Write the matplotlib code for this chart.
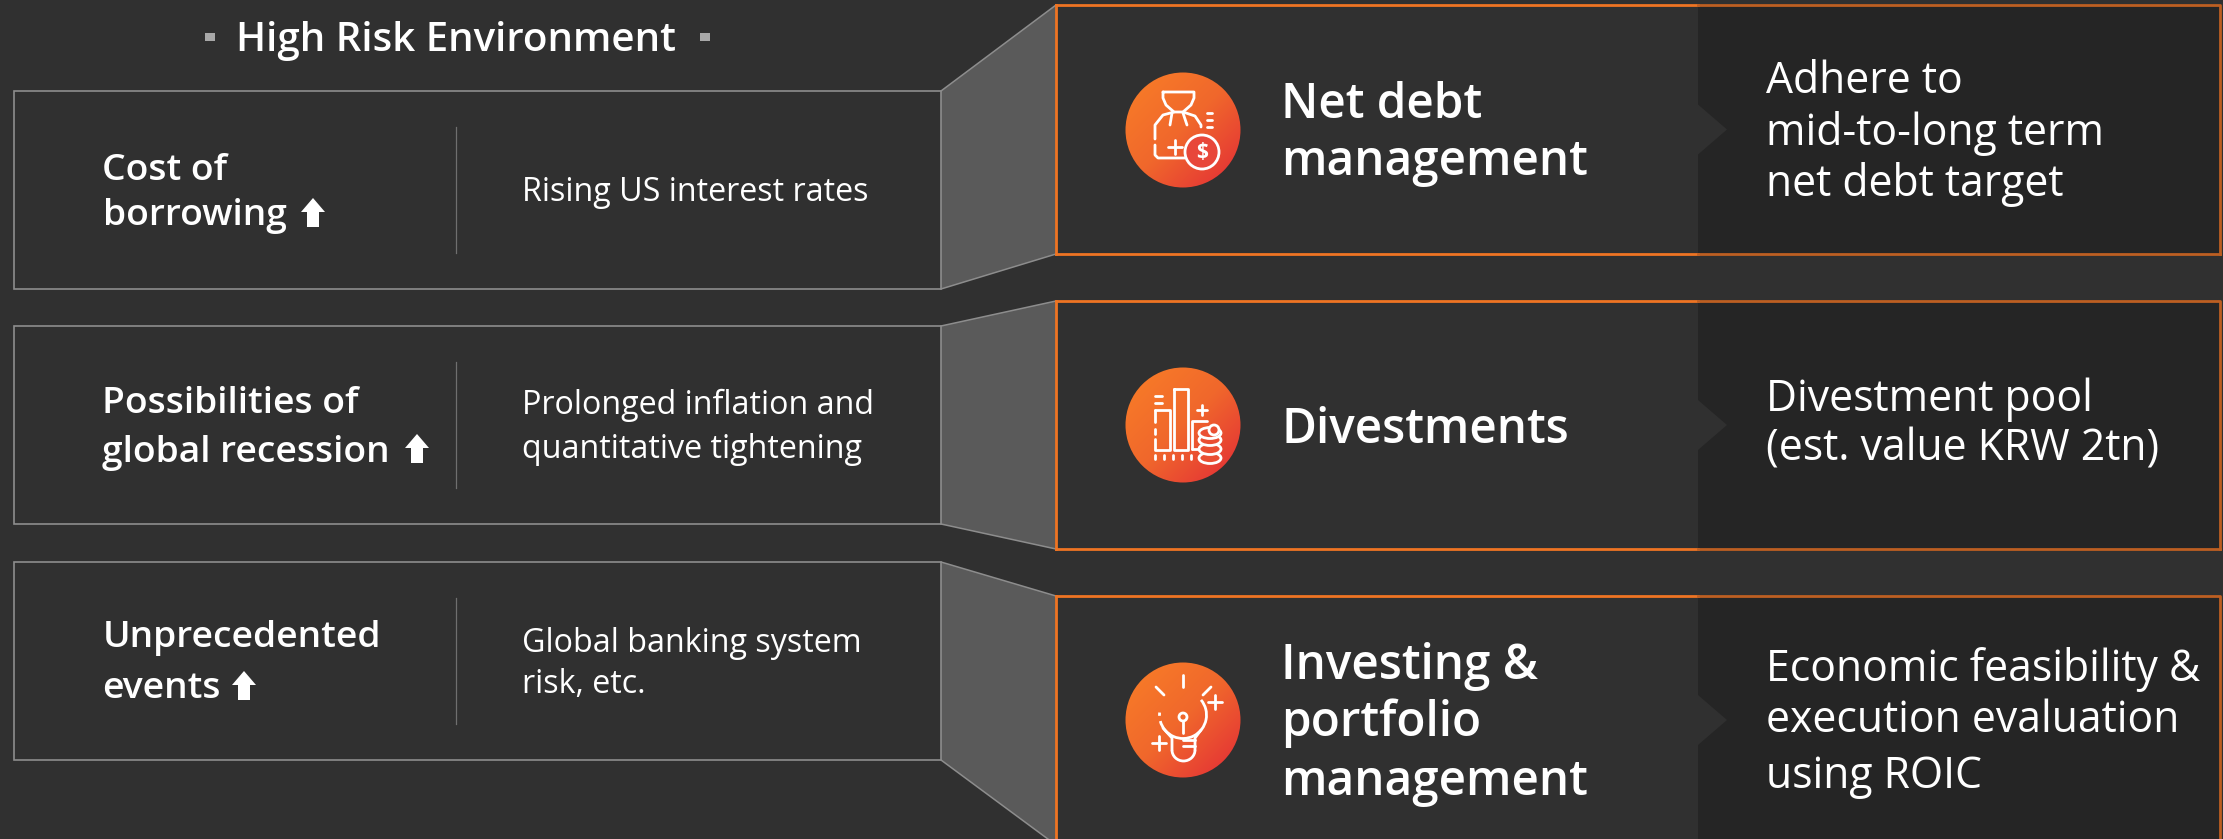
import numpy as np
import matplotlib
matplotlib.use("Agg")
import matplotlib.pyplot as plt
from matplotlib.colors import LinearSegmentedColormap
from matplotlib.patches import Arc, Circle, Ellipse, Polygon, Rectangle

W, H = 2223, 839

BG = "#303030"
PANEL = "#252525"
ORANGE = "#ee7423"
ORANGE_DARK = "#bd5f22"
GREY = "#8d8d8d"
CONNECT = "#5a5a5a"

plt.rcParams["font.family"] = ["Open Sans", "DejaVu Sans"]

title = "High Risk Environment"
risk_heads = [["Cost of", "borrowing"], ["Possibilities of", "global recession"], ["Unprecedented", "events"]]
risk_notes = [["Rising US interest rates"],
              ["Prolonged inflation and", "quantitative tightening"],
              ["Global banking system", "risk, etc."]]
action_heads = [["Net debt", "management"], ["Divestments"], ["Investing &", "portfolio", "management"]]
action_notes = [["Adhere to", "mid-to-long term", "net debt target"],
                ["Divestment pool", "(est. value KRW 2tn)"],
                ["Economic feasibility &", "execution evaluation", "using ROIC"]]

# layout, in pixels of the picture
left_tops = [91, 326, 562]
left_bottoms = [289, 524, 760]
right_tops = [5, 301, 596]
right_bottoms = [254, 549, 845]
head_base = [[180, 225], [413, 462], [647, 698]]
note_base = [[201], [414, 458], [652, 693]]
arrow_x = [313, 417, 244]
arrow_base = [227, 463, 700]
act_head_base = [[118, 175], [443], [679, 736, 795]]
act_note_base = [[93, 145, 196], [411, 461], [681, 732, 788]]
icon_y = [130, 425, 720]

fig = plt.figure(figsize=(W / 100, H / 100), dpi=100, facecolor=BG)
ax = fig.add_axes([0, 0, 1, 1])
ax.set_xlim(0, W)
ax.set_ylim(H, 0)
ax.axis("off")

ax.text(236, 51, title, color="white", fontsize=29, fontweight="semibold")
for x in (205, 700):
    ax.add_patch(Rectangle((x, 33), 10, 8, color="#a8a8a8", lw=0))

grad = LinearSegmentedColormap.from_list("g", ["#f97f27", "#f0672c", "#e22a37"])
u, v = np.meshgrid(np.linspace(0, 1, 120), np.linspace(0, 1, 120))


def line(xs, ys, cx, cy, lw=2.0):
    ax.plot(np.array(xs) + cx, np.array(ys) + cy, color="white", lw=lw, solid_capstyle="round", zorder=6)


def plus(x, y, cx, cy, r=7):
    line([x - r, x + r], [y, y], cx, cy)
    line([x, x], [y - r, y + r], cx, cy)


def ring(x, y, r, cx, cy, fc="none"):
    ax.add_patch(Circle((cx + x, cy + y), r, fc=fc, ec="white", lw=2.0, zorder=6))


def bag_icon(cx, cy):
    line([-20, 11, 11, 8, 0, -9, -17, -20, -20], [-38, -38, -32, -25, -18, -18, -25, -32, -38], cx, cy)
    line([-9, -20, -28, -28], [-18, -15, -5, 9], cx, cy)
    line([-28, -28, -25, 2], [15, 25, 28, 28], cx, cy)
    line([0, 12, 18, 18], [-18, -14, -5, -3], cx, cy)
    line([-11, -13], [-17, -5], cx, cy)
    line([0, 4], [-17, -5], cx, cy)
    plus(-8, 17, cx, cy)
    for y in (-17, -10, -3):
        line([24, 29], [y, y], cx, cy)
    ring(19, 22, 17, cx, cy, fc="#e8473a")
    ax.text(cx + 19, cy + 22, "$", color="white", fontsize=15, fontweight="bold",
            ha="center", va="center", zorder=7)


def bars_icon(cx, cy):
    line([-28, -28], [-15, -3], cx, cy)
    line([-28, -28], [4, 9], cx, cy)
    line([-28, -28, -13, -13, -28], [14, 25, 25, -15, -15], cx, cy)
    line([-9, 5, 5, -9, -9], [-36, -36, 25, 25, -36], cx, cy)
    line([9, 9, 24], [24, -4, -4], cx, cy)
    line([9, 16], [24, 24], cx, cy)
    plus(19, -15, cx, cy, r=5)
    for y in (-29, -22):
        line([-28, -21], [y, y], cx, cy)
    for x in (-28, -19, -10, -1, 8):
        line([x, x], [30, 34], cx, cy)
    for y in (33, 24, 15):
        ax.add_patch(Ellipse((cx + 27, cy + y), 22, 11, fc="#ea4f33", ec="white", lw=2.0, zorder=6))
    ax.add_patch(Ellipse((cx + 27, cy + 8), 22, 11, fc="#ea4f33", ec="white", lw=2.0, zorder=6))
    ring(31, 5, 5, cx, cy, fc="#ea4f33")


def bulb_icon(cx, cy):
    line([0, 0], [-45, -33], cx, cy)
    line([-27, -19], [-33, -25], cx, cy)
    line([28, 20], [-33, -25], cx, cy)
    ax.add_patch(Arc((cx, cy - 5), 47, 47, theta1=-40, theta2=165, angle=0, ec="white", lw=2.0, zorder=6))
    ax.add_patch(Arc((cx, cy - 5), 47, 47, theta1=178, theta2=186, ec="white", lw=2.0, zorder=6))
    line([-20, -11, -11], [8, 18, 30], cx, cy)
    line([18, 12, 12], [10, 18, 30], cx, cy)
    ax.add_patch(Arc((cx + 0.5, cy + 30), 23, 22, theta1=0, theta2=180, ec="white", lw=2.0, zorder=6))
    line([0, 12], [20, 20], cx, cy)
    line([0, 12], [26, 26], cx, cy)
    ring(0, -3, 4, cx, cy)
    line([0, 0], [1, 13], cx, cy)
    plus(32, -18, cx, cy)
    plus(-24, 23, cx, cy)


icons = [bag_icon, bars_icon, bulb_icon]

for i in range(3):
    lt, lb, rt, rb = left_tops[i], left_bottoms[i], right_tops[i], right_bottoms[i]

    # connector between the left and the right box
    ax.add_patch(Polygon([(941, lt), (1056, rt), (1056, rb), (941, lb)], fc=CONNECT, ec="none", zorder=1))
    ax.plot([941, 1056], [lt, rt], color=GREY, lw=1.1, zorder=2)
    ax.plot([941, 1056], [lb, rb], color=GREY, lw=1.1, zorder=2)

    # left box
    ax.add_patch(Rectangle((13.5, lt), 927.5, lb - lt, fc=BG, ec=GREY, lw=1.2, zorder=2))
    ax.plot([456, 456], [lt + 36, lb - 36], color="#6f6f6f", lw=0.9, zorder=3)
    for text, y in zip(risk_heads[i], head_base[i]):
        ax.text(102.5, y, text, color="white", fontsize=26.8, fontweight="semibold", zorder=5)
    for text, y in zip(risk_notes[i], note_base[i]):
        ax.text(522, y, text, color="white", fontsize=23.2, zorder=5)

    # up arrow next to the heading
    ax_x, ay = arrow_x[i], arrow_base[i]
    ax.add_patch(Polygon([(ax_x - 12, ay - 15), (ax_x, ay - 29), (ax_x + 12, ay - 15), (ax_x + 6, ay - 15),
                          (ax_x + 6, ay), (ax_x - 6, ay), (ax_x - 6, ay - 15)], fc="white", ec="none", zorder=5))

    # right box: dark panel with a notch, then the orange frame
    mid = (rt + rb) / 2 if i < 2 else icon_y[i]
    ax.add_patch(Polygon([(1698, rt), (2220, rt), (2220, rb), (1698, rb), (1698, mid + 25), (1727, mid),
                          (1698, mid - 25)], fc=PANEL, ec="none", zorder=2))
    ax.plot([1056, 1056], [rt, rb], color=ORANGE, lw=2, zorder=4)
    ax.plot([1056, 1698], [rt, rt], color=ORANGE, lw=2, zorder=4)
    ax.plot([1698, 2220, 2220], [rt, rt, rb], color=ORANGE_DARK, lw=2, zorder=4)
    if i < 2:
        ax.plot([1056, 1698], [rb, rb], color=ORANGE, lw=2, zorder=4)
        ax.plot([1698, 2220], [rb, rb], color=ORANGE_DARK, lw=2, zorder=4)

    # icon disc with a gradient
    cy = icon_y[i]
    disc = Circle((1183, cy), 57.5, transform=ax.transData, fc="none", ec="none")
    ax.add_patch(disc)
    im = ax.imshow(u + v, extent=(1125, 1241, cy + 58, cy - 58), cmap=grad, aspect="auto", zorder=3)
    im.set_clip_path(disc)
    icons[i](1183, cy)

    for text, y in zip(action_heads[i], act_head_base[i]):
        ax.text(1281, y, text, color="white", fontsize=34.3, fontweight="semibold", zorder=5)
    for text, y in zip(action_notes[i], act_note_base[i]):
        ax.text(1766, y, text, color="white", fontsize=30.8, zorder=5)

ax.set_xlim(0, W)
ax.set_ylim(H, 0)
fig.savefig("out.png", dpi=100, facecolor=BG)
